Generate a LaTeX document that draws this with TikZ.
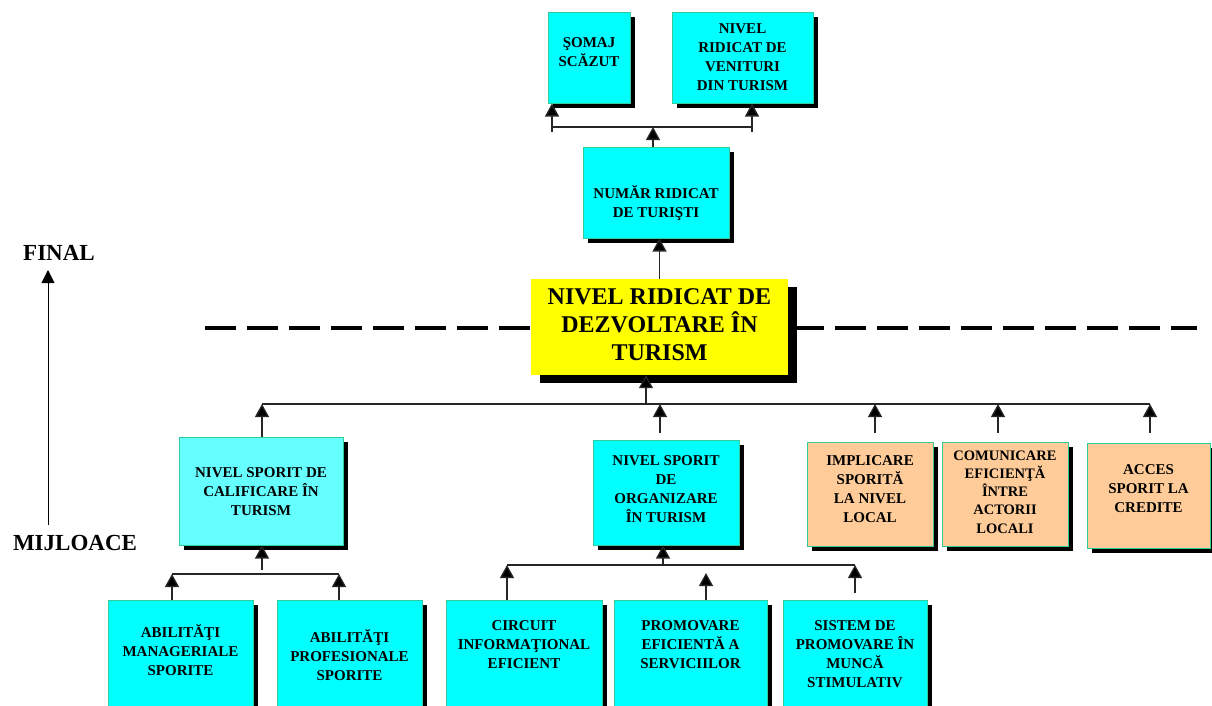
\documentclass[tikz,border=0pt]{standalone}
\usepackage{fontspec}
\setmainfont{Liberation Serif}
\usetikzlibrary{arrows.meta,shadows,calc}
\definecolor{cyanbox}{HTML}{00FFFF}
\definecolor{lcyanbox}{HTML}{66FFFF}
\definecolor{orangebox}{HTML}{FFCC99}
\definecolor{yellowbox}{HTML}{FFFF00}
\definecolor{edgecol}{HTML}{33CC99}
\definecolor{linecol}{HTML}{262626}
\tikzset{
  boxbase/.style={rectangle, draw=edgecol, line width=1pt, inner sep=0pt,
    drop shadow={shadow xshift=5pt, shadow yshift=-5pt, fill=black, opacity=1}},
  cbox/.style={boxbase, fill=cyanbox},
  lcbox/.style={boxbase, fill=lcyanbox},
  obox/.style={boxbase, fill=orangebox},
  ybox/.style={rectangle, draw=none, fill=yellowbox, inner sep=0pt,
    drop shadow={shadow xshift=9pt, shadow yshift=-8pt, fill=black, opacity=1}},
  txt/.style={align=center, inner sep=0pt, font=\fontsize{15}{19}\selectfont\bfseries},
  bigtxt/.style={align=center, inner sep=0pt, font=\fontsize{24}{28}\selectfont\bfseries},
  axistxt/.style={inner sep=0pt, font=\fontsize{23}{26}\selectfont\bfseries},
  conn/.style={draw=linecol, line width=1.3pt},
  arr/.style={conn, -{Triangle[width=14pt,length=13pt,fill=black]}},
  axisarr/.style={draw=black, line width=1pt, -{Triangle[width=13pt,length=13pt]}},
  sep/.style={draw=black, line width=4pt, dash pattern=on 31pt off 11pt}
}
\begin{document}
\begin{tikzpicture}[x=1pt,y=-1pt]
\useasboundingbox (0,0) rectangle (1212,705);
\clip (0,0) rectangle (1212,705);

% separator line
\coordinate (sepL) at (205,328);
\coordinate (sepR) at (1197,328);
\draw[sep] (sepL) -- (sepR);

% top boxes
\node[cbox, minimum width=82pt, minimum height=91pt] (somaj) at (589,57.5) {};
\node[txt] (somajT) at (589,52) {ŞOMAJ\\SCĂZUT};
\node[cbox, minimum width=141pt, minimum height=91pt] (venit) at (742.5,57.5) {};
\node[txt] (venitT) at (742.5,57.5) {NIVEL\\RIDICAT DE\\VENITURI\\DIN TURISM};
\node[cbox, minimum width=146pt, minimum height=91pt] (numar) at (656,192.5) {};
\node[txt] (numarT) at (656,203) {NUMĂR RIDICAT\\DE TURIŞTI};

% central goal
\node[ybox, minimum width=257pt, minimum height=96pt] (goal) at (659.5,327) {};
\node[bigtxt] (goalT) at (659.5,325) {NIVEL RIDICAT DE\\DEZVOLTARE ÎN\\TURISM};

% middle row
\node[lcbox, minimum width=164pt, minimum height=108pt] (calif) at (261,491) {};
\node[txt] (califT) at (261,492) {NIVEL SPORIT DE\\CALIFICARE ÎN\\TURISM};
\node[cbox, minimum width=146pt, minimum height=105pt] (organ) at (666,492.5) {};
\node[txt] (organT) at (666,489) {NIVEL SPORIT\\DE\\ORGANIZARE\\ÎN TURISM};
\node[obox, minimum width=126pt, minimum height=104pt] (impl) at (870,494) {};
\node[txt] (implT) at (870,489) {IMPLICARE\\SPORITĂ\\LA NIVEL\\LOCAL};
\node[obox, minimum width=126pt, minimum height=104pt] (comun) at (1005,494) {};
\node[txt, font=\fontsize{14.5}{18.2}\selectfont\bfseries] (comunT) at (1005,492) {COMUNICARE\\EFICIENŢĂ\\ÎNTRE\\ACTORII\\LOCALI};
\node[obox, minimum width=123pt, minimum height=105pt] (acces) at (1148.5,495.5) {};
\node[txt] (accesT) at (1148.5,489) {ACCES\\SPORIT LA\\CREDITE};

% bottom row
\node[cbox, minimum width=145pt, minimum height=120pt] (abil1) at (180.5,660) {};
\node[txt] (abil1T) at (180.5,650) {ABILITĂŢI\\MANAGERIALE\\SPORITE};
\node[cbox, minimum width=145pt, minimum height=120pt] (abil2) at (349.5,660) {};
\node[txt] (abil2T) at (349.5,655) {ABILITĂŢI\\PROFESIONALE\\SPORITE};
\node[cbox, minimum width=156pt, minimum height=120pt] (circ) at (524,660) {};
\node[txt] (circT) at (524,645) {CIRCUIT\\INFORMAŢIONAL\\EFICIENT};
\node[cbox, minimum width=153pt, minimum height=120pt] (prom) at (690.5,660) {};
\node[txt] (promT) at (690.5,645) {PROMOVARE\\EFICIENTĂ A\\SERVICIILOR};
\node[cbox, minimum width=144pt, minimum height=120pt] (sist) at (855,660) {};
\node[txt] (sistT) at (855,654.5) {SISTEM DE\\PROMOVARE ÎN\\MUNCĂ\\STIMULATIV};

% axis labels
\node[axistxt] (final) at (59,253) {FINAL};
\node[axistxt] (mijl) at (75,543) {MIJLOACE};
\coordinate (axB) at (48,525);
\coordinate (axT) at (48,270);
\draw[axisarr] (axB) -- (axT);

% --- top bus ---
\coordinate (tbL) at (552,127);
\coordinate (tbR) at (752,127);
\draw[conn] (tbL) -- (tbR);
\draw[arr] ([yshift=-5pt]tbL) -- (tbL |- somaj.south);
\draw[arr] ([yshift=-5pt]tbR) -- (tbR |- venit.south);
\draw[arr] ([xshift=-3pt]numar.north) -- ([xshift=-3pt]numar.north |- tbL);

% goal -> numar
\draw[arr] (goal.north) -- (goal.north |- numar.south);

% --- middle bus ---
\coordinate (mbL) at (262,404);
\coordinate (mbR) at (1150,404);
\coordinate (mbC) at (646,404);
\draw[conn] (mbL) -- (mbR);
\draw[arr] (mbC) -- (mbC |- goal.south);
\draw[arr] ([xshift=1pt]calif.north) -- ([xshift=1pt]calif.north |- mbL);
\draw[arr] ([xshift=-6pt,yshift=7pt]organ.north) -- ([xshift=-6pt]organ.north |- mbL);
\draw[arr] ([xshift=5pt,yshift=9pt]impl.north) -- ([xshift=5pt]impl.north |- mbL);
\draw[arr] ([xshift=-7pt,yshift=9pt]comun.north) -- ([xshift=-7pt]comun.north |- mbL);
\draw[arr] ([xshift=1.5pt,yshift=10pt]acces.north) -- ([xshift=1.5pt]acces.north |- mbL);

% --- lower-left bus ---
\coordinate (lbL) at (172,574);
\coordinate (lbR) at (339,574);
\coordinate (lbC) at (262,574);
\draw[conn] (lbL) -- (lbR);
\draw[arr] ([yshift=4pt]lbC) -- (lbC |- calif.south);
\draw[arr] (lbL |- abil1.north) -- (lbL);
\draw[arr] (lbR |- abil2.north) -- (lbR);

% --- lower-middle bus ---
\coordinate (rbL) at (507,565);
\coordinate (rbR) at (855,565);
\coordinate (rbC) at (663,565);
\coordinate (promTip) at (706,573);
\draw[conn] (rbL) -- (rbR);
\draw[arr] (rbC) -- (rbC |- organ.south);
\draw[arr] (rbL |- circ.north) -- (rbL);
\draw[arr] (promTip |- prom.north) -- (promTip);
\draw[arr] ([yshift=7pt]sist.north) -- (rbR);
\end{tikzpicture}
\end{document}
